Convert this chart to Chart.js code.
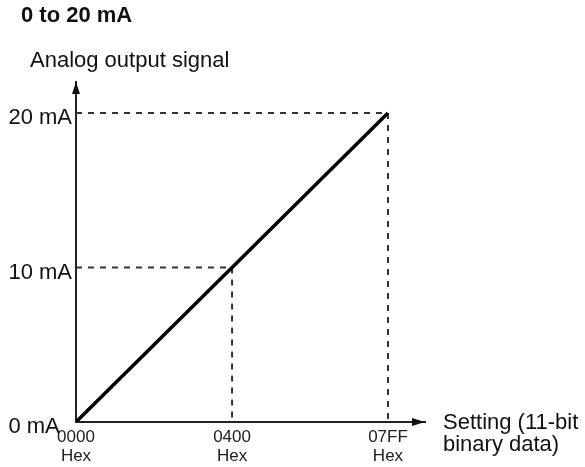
<!DOCTYPE html>
<html>
<head>
<meta charset="utf-8">
<script src="https://cdn.jsdelivr.net/npm/chart.js@4/dist/chart.umd.min.js"></script>
<style>
    body { margin: 0; background: #fff; }
    #chart { display: block; }
</style>
</head>
<body>
<canvas id="chart" width="585" height="467"></canvas>
<script>
const settingHex = ['0000', '0400', '07FF'];
const settingValues = [0, 1024, 2047];
const outputMa = [0, 10, 20];
const yTickValues = [0, 10, 20];
const yTickLabels = ['0 mA  ', '10 mA', '20 mA'];
const titleText = '0 to 20 mA';
const yCaption = 'Analog output signal';
const xCaption = ['Setting (11-bit', 'binary data)'];

const fontFamily = '"Liberation Sans", Arial, Helvetica, sans-serif';
const narrowFamily = '"Liberation Sans Narrow", "Arial Narrow", "Liberation Sans", sans-serif';

document.addEventListener('DOMContentLoaded', function() {
    const ctx = document.getElementById('chart').getContext('2d');

    // the transfer line itself
    const lineData = settingValues.map((v, i) => ({ x: v, y: outputMa[i] }));

    // dashed guides from the y axis over to each point and down to the x axis
    const guides = [1, 2].map(i => [
        { x: 0, y: outputMa[i] },
        { x: settingValues[i], y: outputMa[i] },
        { x: settingValues[i], y: 0 }
    ]);

    const guideStyle = {
        borderColor: '#333',
        borderWidth: 2,
        borderDash: [6, 6],
        pointRadius: 0,
        fill: false,
        tension: 0
    };

    const axisDecor = {
        id: 'axisDecor',
        afterDraw(chart) {
            const c = chart.ctx;
            const area = chart.chartArea;
            c.save();
            c.fillStyle = '#111';

            // arrow on the y axis
            c.beginPath();
            c.moveTo(area.left, area.top);
            c.lineTo(area.left - 4, area.top + 12);
            c.lineTo(area.left + 4, area.top + 12);
            c.closePath();
            c.fill();

            // arrow on the x axis
            c.beginPath();
            c.moveTo(area.right, area.bottom);
            c.lineTo(area.right - 13, area.bottom - 4);
            c.lineTo(area.right - 13, area.bottom + 4);
            c.closePath();
            c.fill();

            c.textBaseline = 'middle';
            c.textAlign = 'left';
            c.font = 'bold 22px ' + fontFamily;
            c.fillText(titleText, area.left - 55, 16);
            c.font = '22px ' + fontFamily;
            c.fillText(yCaption, area.left - 46, area.top - 21);
            c.fillText(xCaption[0], area.right + 18, area.bottom + 1);
            c.fillText(xCaption[1], area.right + 18, area.bottom + 23);
            c.restore();
        }
    };

    new Chart(ctx, {
        type: 'line',
        data: {
            datasets: [
                {
                    data: lineData,
                    borderColor: '#000',
                    borderWidth: 3.5,
                    pointRadius: 0,
                    fill: false,
                    tension: 0
                },
                Object.assign({ data: guides[0] }, guideStyle),
                Object.assign({ data: guides[1] }, guideStyle)
            ]
        },
        options: {
            responsive: false,
            animation: false,
            devicePixelRatio: 1,
            layout: {
                padding: { left: 0, right: 160, top: 82, bottom: 0 }
            },
            plugins: {
                legend: { display: false },
                tooltip: { enabled: false },
                title: { display: false }
            },
            scales: {
                x: {
                    type: 'linear',
                    min: 0,
                    max: 2290,
                    grid: { display: false },
                    border: { display: true, color: '#222', width: 2 },
                    afterBuildTicks(scale) {
                        scale.ticks = settingValues.map(v => ({ value: v }));
                    },
                    afterFit(scale) {
                        scale.height = 45;
                    },
                    ticks: {
                        autoSkip: false,
                        maxRotation: 0,
                        padding: -2,
                        color: '#222',
                        font: { family: narrowFamily, size: 17, lineHeight: 1.1 },
                        callback: (value, index) => [settingHex[index], 'Hex']
                    }
                },
                y: {
                    type: 'linear',
                    min: 0,
                    max: 22,
                    grid: { display: false },
                    border: { display: true, color: '#222', width: 2 },
                    afterBuildTicks(scale) {
                        scale.ticks = yTickValues.map(v => ({ value: v }));
                    },
                    afterFit(scale) {
                        scale.width = 76;
                    },
                    ticks: {
                        padding: -4,
                        labelOffset: 5,
                        color: '#111',
                        font: { family: fontFamily, size: 22 },
                        callback: (value, index) => yTickLabels[index]
                    }
                }
            }
        },
        plugins: [axisDecor]
    });
});
</script>
</body>
</html>
